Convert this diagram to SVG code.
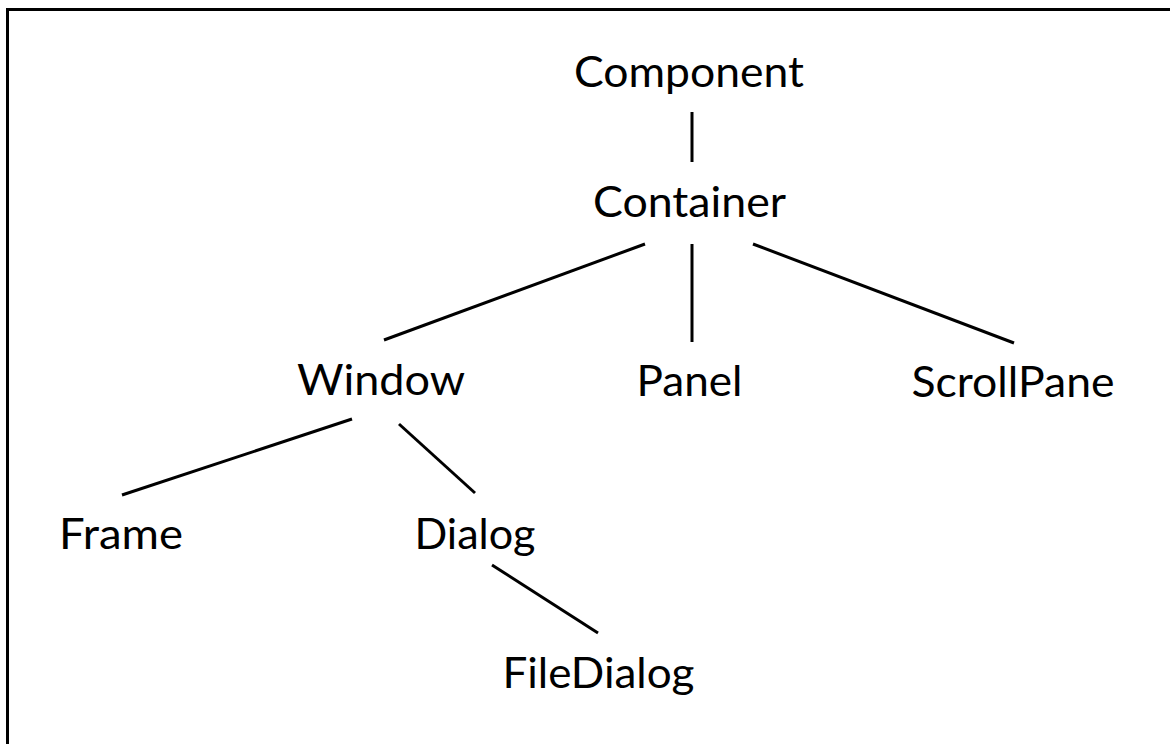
<svg xmlns="http://www.w3.org/2000/svg" width="1170" height="744" viewBox="0 0 1170 744">
<style>
text{font-family:Lato,"Open Sans","Liberation Sans",sans-serif;font-size:43px;fill:#000;text-anchor:middle}
.c line{stroke:#000;stroke-width:3;stroke-linecap:butt}
.frame{fill:none;stroke:#000;stroke-width:3}
</style>
<rect width="1170" height="744" fill="#fff"/>
<path class="frame" d="M7.5 744V9.5H1170"/>
<g class="c" id="connectors">
<line x1="692" y1="112" x2="692" y2="162"/>
<line x1="645" y1="244" x2="384" y2="340"/>
<line x1="692" y1="244" x2="692" y2="342"/>
<line x1="753" y1="244" x2="1014" y2="343"/>
<line x1="352" y1="419" x2="122" y2="495"/>
<line x1="399" y1="424" x2="475" y2="493"/>
<line x1="492" y1="565" x2="598" y2="633"/>
</g>
<g id="component"><text x="689" y="87" textLength="230" lengthAdjust="spacingAndGlyphs">Component</text></g>
<g id="container"><text x="689.5" y="217" textLength="193" lengthAdjust="spacingAndGlyphs">Container</text></g>
<g id="window"><text x="381" y="395" textLength="168" lengthAdjust="spacingAndGlyphs">Window</text></g>
<g id="panel"><text x="689.5" y="396" textLength="106" lengthAdjust="spacingAndGlyphs">Panel</text></g>
<g id="scrollpane"><text x="1013" y="397" textLength="203" lengthAdjust="spacingAndGlyphs">ScrollPane</text></g>
<g id="frame"><text x="121" y="549" textLength="124" lengthAdjust="spacingAndGlyphs">Frame</text></g>
<g id="dialog"><text x="475" y="549" textLength="121" lengthAdjust="spacingAndGlyphs">Dialog</text></g>
<g id="filedialog"><text x="598.5" y="688" textLength="192" lengthAdjust="spacingAndGlyphs">FileDialog</text></g>
</svg>
